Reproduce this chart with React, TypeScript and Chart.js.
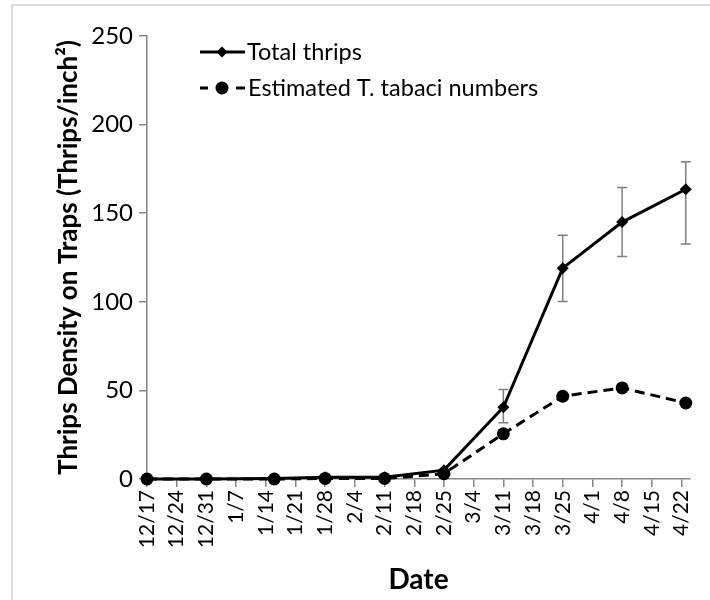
import React, { useEffect, useRef } from 'react';
import { Chart, registerables } from 'chart.js';

Chart.register(...registerables);

const weekLabels = ['12/17', '12/24', '12/31', '1/7', '1/14', '1/21', '1/28', '2/4', '2/11', '2/18', '2/25', '3/4', '3/11', '3/18', '3/25', '4/1', '4/8', '4/15', '4/22'];
const weekDays = [0, 7, 14, 21, 28, 35, 42, 49, 56, 63, 70, 77, 84, 91, 98, 105, 112, 119, 126];
const sampleDays = [0, 14, 30, 42, 56, 70, 84, 98, 112, 127];
const totalThrips = [0, 0, 0.3, 1, 1, 5, 40.5, 119, 145, 163.5];
const tabaciNumbers = [0, 0, 0, 0.3, 0.3, 3, 25.5, 46.7, 51.4, 42.9];
const errorUpper = [null, null, null, null, null, null, 50.5, 137.5, 164.5, 179];
const errorLower = [null, null, null, null, null, null, 31.7, 100.2, 125.5, 132.6];
const seriesNames = ['Total thrips', 'Estimated T. tabaci numbers'];
const yTitle = 'Thrips Density on Traps (Thrips/inch\u00B2)';
const xTitle = 'Date';

const FONT = 'Lato, "Noto Sans", sans-serif';
const AXIS_GRAY = '#868686';

const errorBarPlugin = {
  id: 'errorBars',
  beforeDatasetsDraw(chart: any) {
    const { ctx, scales } = chart;
    const xs = scales.x;
    const ys = scales.y;
    ctx.save();
    ctx.strokeStyle = '#7f7f7f';
    ctx.lineWidth = 1.5;
    for (let i = 0; i < sampleDays.length; i++) {
      const up = errorUpper[i];
      const lo = errorLower[i];
      if (up == null || lo == null) continue;
      const x = xs.getPixelForValue(sampleDays[i]);
      const yt = ys.getPixelForValue(up);
      const yb = ys.getPixelForValue(lo);
      ctx.beginPath();
      ctx.moveTo(x, yt);
      ctx.lineTo(x, yb);
      ctx.moveTo(x - 5, yt);
      ctx.lineTo(x + 5, yt);
      ctx.moveTo(x - 5, yb);
      ctx.lineTo(x + 5, yb);
      ctx.stroke();
    }
    ctx.restore();
  },
};

const framePlugin = {
  id: 'frame',
  beforeDraw(chart: any) {
    const { ctx } = chart;
    ctx.save();
    ctx.strokeStyle = '#d4d4d4';
    ctx.lineWidth = 1.5;
    ctx.strokeRect(12, 5, 720, 620);
    ctx.restore();
  },
};

const legendPlugin = {
  id: 'customLegend',
  afterDraw(chart: any) {
    const { ctx } = chart;
    ctx.save();
    const x0 = 200;
    const x1 = 245;
    const xm = 222;
    const rows = [52, 88];
    ctx.strokeStyle = '#000';
    ctx.fillStyle = '#000';
    ctx.lineWidth = 3;
    ctx.beginPath();
    ctx.moveTo(x0, rows[0]);
    ctx.lineTo(x1, rows[0]);
    ctx.stroke();
    ctx.beginPath();
    ctx.moveTo(xm, rows[0] - 5.5);
    ctx.lineTo(xm + 5.5, rows[0]);
    ctx.lineTo(xm, rows[0] + 5.5);
    ctx.lineTo(xm - 5.5, rows[0]);
    ctx.closePath();
    ctx.fill();
    ctx.beginPath();
    ctx.moveTo(x0, rows[1]);
    ctx.lineTo(x0 + 8, rows[1]);
    ctx.moveTo(x1 - 9, rows[1]);
    ctx.lineTo(x1, rows[1]);
    ctx.stroke();
    ctx.beginPath();
    ctx.arc(xm, rows[1], 6.5, 0, Math.PI * 2);
    ctx.fill();
    ctx.font = `23.5px ${FONT}`;
    ctx.textBaseline = 'middle';
    ctx.textAlign = 'left';
    ctx.fillText(seriesNames[0], x1 + 2, rows[0]);
    ctx.fillText(seriesNames[1], x1 + 3, rows[1]);
    ctx.restore();
  },
};

export default function App() {
  const canvasRef = useRef<HTMLCanvasElement | null>(null);

  useEffect(() => {
    if (!canvasRef.current) return;
    const chart = new Chart(canvasRef.current, {
      type: 'line',
      data: {
        datasets: [
          {
            label: seriesNames[0],
            data: sampleDays.map((d, i) => ({ x: d, y: totalThrips[i] })),
            borderColor: '#000',
            backgroundColor: '#000',
            borderWidth: 3,
            pointStyle: 'rectRot',
            pointRadius: 6,
            pointBackgroundColor: '#000',
            pointBorderColor: '#000',
            pointBorderWidth: 0,
            tension: 0,
            clip: false as any,
          },
          {
            label: seriesNames[1],
            data: sampleDays.map((d, i) => ({ x: d, y: tabaciNumbers[i] })),
            borderColor: '#000',
            backgroundColor: '#000',
            borderWidth: 3,
            borderDash: [10, 6],
            pointStyle: 'circle',
            pointRadius: 6.5,
            pointBackgroundColor: '#000',
            pointBorderColor: '#000',
            pointBorderWidth: 0,
            tension: 0,
            clip: false as any,
          },
        ],
      },
      options: {
        animation: false,
        responsive: false,
        maintainAspectRatio: false,
        layout: { padding: { left: 0, top: 36, right: 17, bottom: 0 } },
        plugins: {
          legend: { display: false },
          tooltip: { enabled: false },
        },
        scales: {
          x: {
            type: 'linear',
            min: 0,
            max: 128,
            afterBuildTicks: (scale: any) => {
              scale.ticks = weekDays.map((v) => ({ value: v }));
            },
            afterFit: (scale: any) => {
              scale.height = 121;
            },
            ticks: {
              autoSkip: false,
              minRotation: 90,
              maxRotation: 90,
              padding: 3,
              color: '#000',
              font: { family: FONT, size: 21 },
              callback: (value: any) => {
                const idx = weekDays.indexOf(Number(value));
                return idx >= 0 ? weekLabels[idx] : '';
              },
            },
            grid: {
              drawOnChartArea: false,
              drawTicks: true,
              tickLength: 8,
              color: AXIS_GRAY,
              lineWidth: 1.5,
            },
            border: { color: AXIS_GRAY, width: 1.5 },
            title: {
              display: true,
              text: xTitle,
              color: '#000',
              font: { family: FONT, size: 28, weight: 'bold' },
              padding: { top: 0, bottom: 3 },
            },
          },
          y: {
            type: 'linear',
            min: 0,
            max: 250,
            afterFit: (scale: any) => {
              scale.width = 147;
            },
            ticks: {
              stepSize: 50,
              padding: 6,
              color: '#000',
              font: { family: FONT, size: 24 },
            },
            grid: {
              drawOnChartArea: false,
              drawTicks: true,
              tickLength: 8,
              color: AXIS_GRAY,
              lineWidth: 1.5,
            },
            border: { color: AXIS_GRAY, width: 1.5 },
            title: {
              display: true,
              text: yTitle,
              color: '#000',
              font: { family: FONT, size: 26, weight: 'bold' },
              padding: { top: 53, bottom: 0 },
            },
          },
        },
      },
      plugins: [framePlugin, errorBarPlugin, legendPlugin],
    });
    return () => chart.destroy();
  }, []);

  return (
    <div style={{ position: 'absolute', left: 0, top: 0, width: 710, height: 600, background: '#fff' }}>
      <canvas ref={canvasRef} width={710} height={600} style={{ width: 710, height: 600, display: 'block' }} />
    </div>
  );
}
